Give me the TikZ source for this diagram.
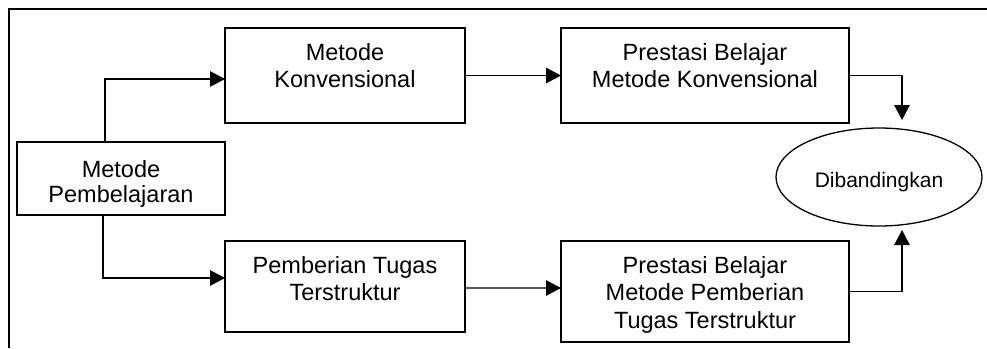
\documentclass[tikz,border=0pt]{standalone}
\usepackage{fontspec}
\setmainfont{Liberation Sans}
\usetikzlibrary{arrows.meta,shapes.geometric}
\tikzset{
  boxnode/.style={draw=black, line width=1.3bp, rectangle, inner sep=0pt, outer sep=0pt},
  linetext/.style={anchor=base, inner sep=0pt, font=\fontsize{23.5bp}{27.5bp}\selectfont},
  conn/.style={draw=black, line width=1.3bp, -{Triangle[length=15bp,width=15.5bp]}},
  framestyle/.style={draw=black, line width=2bp},
}
\begin{document}
\begin{tikzpicture}[x=1bp,y=-1bp]
\useasboundingbox (0,0) rectangle (987,348);
% frame
\draw[framestyle] (9,348) -- (9,9) -- (987,9);
% boxes
\node[boxnode, minimum width=208bp, minimum height=73bp] (b1) at (121,178.5) {};
\node[boxnode, minimum width=240bp, minimum height=95bp] (b2) at (345,75.5) {};
\node[boxnode, minimum width=240bp, minimum height=91bp] (b3) at (345,286.5) {};
\node[boxnode, minimum width=288bp, minimum height=95bp] (b4) at (705,75.5) {};
\node[boxnode, minimum width=288bp, minimum height=101bp] (b5) at (705,291.5) {};
\node[draw=black, line width=1.3bp, ellipse, inner sep=0pt, outer sep=0pt,
      minimum width=206bp, minimum height=98bp,
      font=\fontsize{21bp}{25bp}\selectfont, text height=20bp, text depth=0pt] (ell) at (879,177) {Dibandingkan};
% texts
\node[linetext] (t1a) at (121,177) {Metode};
\node[linetext] (t1b) at (121,202.5) {Pembelajaran};
\node[linetext] (t2a) at (345,60) {Metode};
\node[linetext] (t2b) at (345,87.5) {Konvensional};
\node[linetext] (t3a) at (345,273) {Pemberian Tugas};
\node[linetext] (t3b) at (345,300.5) {Terstruktur};
\node[linetext] (t4a) at (705,60) {Prestasi Belajar};
\node[linetext] (t4b) at (705,87.5) {Metode Konvensional};
\node[linetext] (t5a) at (705,273) {Prestasi Belajar};
\node[linetext] (t5b) at (705,300.5) {Metode Pemberian};
\node[linetext] (t5c) at (705,328) {Tugas Terstruktur};
% connector ends
\coordinate (e1) at (902,120);
\coordinate (e2) at (902,230);
% connectors
\draw[conn] ([xshift=-16bp]b1.north) |- ([yshift=-3.5bp]b2.west);
\draw[conn] ([xshift=-18bp]b1.south) |- ([yshift=8.5bp]b3.west);
\draw[conn] (b2.east) -- (b4.west);
\draw[conn] ([yshift=-1.5bp]b3.east) -- ([yshift=3.5bp]b5.west);
\draw[conn] (b4.east) -| (e1);
\draw[conn] (b5.east) -| (e2);
\end{tikzpicture}
\end{document}
